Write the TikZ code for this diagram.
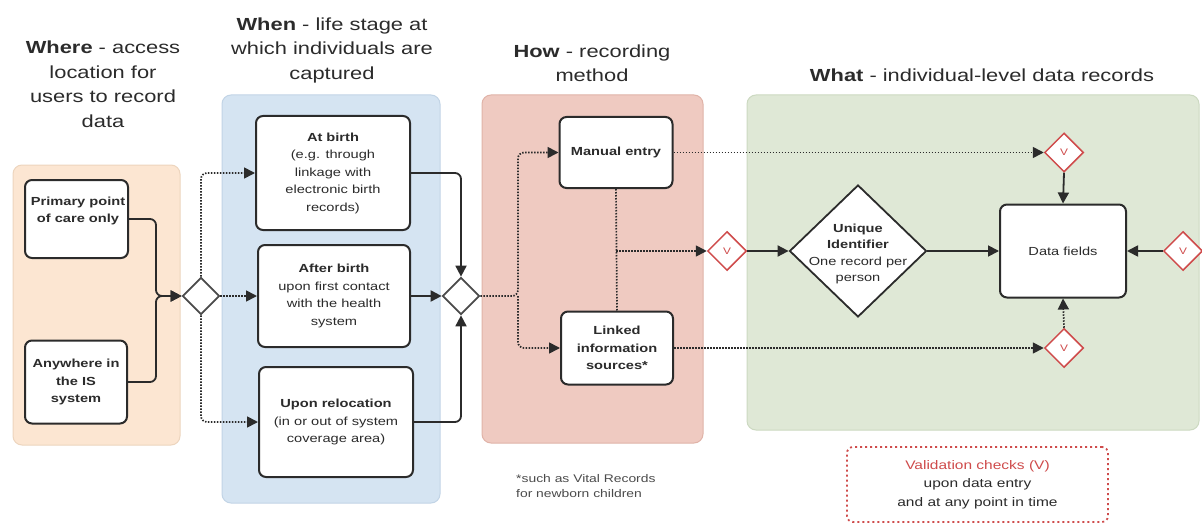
\documentclass[tikz,border=0pt]{standalone}
\usepackage{fontspec}
\setmainfont[FakeStretch=1.25]{Liberation Sans}
\usetikzlibrary{arrows.meta,shapes.geometric}
\definecolor{pOrange}{HTML}{FCE6D2}
\definecolor{pOrangeD}{HTML}{EDD5BE}
\definecolor{pBlue}{HTML}{D5E4F2}
\definecolor{pBlueD}{HTML}{C2D4E6}
\definecolor{pRed}{HTML}{EFCAC1}
\definecolor{pRedD}{HTML}{E0B3A8}
\definecolor{pGreen}{HTML}{DFE8D6}
\definecolor{pGreenD}{HTML}{CCD9C1}
\definecolor{vred}{HTML}{CF4B4B}
\definecolor{ink}{HTML}{2B2B2B}
\begin{document}
\begin{tikzpicture}[x=1pt,y=-1pt,
  panel/.style={rounded corners=9pt, line width=1pt},
  box/.style={draw=ink, fill=white, rounded corners=7pt, line width=2pt, align=center,
    text=ink, font=\fontsize{11.7}{17.5}\selectfont, inner sep=2pt},
  boxtext/.style={align=center, text=ink, font=\fontsize{11.7}{17.5}\selectfont, inner sep=0pt},
  gate/.style={diamond, draw=ink!85, fill=white, line width=1.7pt, minimum width=37pt,
    minimum height=37pt, inner sep=0pt},
  vchk/.style={diamond, draw=vred, fill=white, line width=1.5pt, minimum width=39pt,
    minimum height=39pt, inner sep=0pt, text=vred, font=\fontsize{9.5}{9.5}\selectfont},
  title/.style={align=center, text=ink, font=\fontsize{17.5}{24.5}\selectfont},
  conn/.style={line width=1.8pt, draw=ink, rounded corners=6pt},
  dotline/.style={conn, line width=1.7pt, dash pattern=on 1.5pt off 1.5pt},
  arr/.style={-{Triangle[length=11pt,width=11pt]}}]
\useasboundingbox (0,0) rectangle (1202,524);
\fill[white] (0,0) rectangle (1202,524);

% panels
\draw[panel, fill=pOrange, draw=pOrangeD] (13,165) rectangle (180,445);
\draw[panel, fill=pBlue, draw=pBlueD] (222,95) rectangle (440,503);
\draw[panel, fill=pRed, draw=pRedD] (482,95) rectangle (703,443);
\draw[panel, fill=pGreen, draw=pGreenD] (747,95) rectangle (1199,430);

% titles
\node[title] (tWhere) at (103,84) {\textbf{Where} - access\\location for\\users to record\\data};
\node[title] (tWhen) at (332,50) {\textbf{When} - life stage at\\which individuals are\\captured};
\node[title] (tHow) at (592,63) {\textbf{How} - recording\\method};
\node[title] (tWhat) at (982,75) {\textbf{What} - individual-level data records};

% where boxes
\node[box, minimum width=103pt, minimum height=78pt] (prim) at (76.5,219) {};
\node[boxtext] (primt) at (78,211) {\textbf{Primary point}\\\textbf{of care only}};
\node[box, minimum width=102pt, minimum height=83pt] (anyw) at (76,382) {\textbf{Anywhere in}\\\textbf{the IS}\\\textbf{system}};

% gateway 1
\node[gate] (d1) at (201,296) {};

% when boxes
\node[box, minimum width=154pt, minimum height=114pt] (atb) at (333,173)
  {\textbf{At birth}\\(e.g. through\\linkage with\\electronic birth\\records)};
\node[box, minimum width=152pt, minimum height=102pt] (aft) at (334,296)
  {\textbf{After birth}\\upon first contact\\with the health\\system};
\node[box, minimum width=154pt, minimum height=110pt] (upr) at (336,422)
  {\textbf{Upon relocation}\\(in or out of system\\coverage area)};

% gateway 2
\node[gate] (d2) at (461,296) {};

% how boxes
\node[box, minimum width=113pt, minimum height=71pt] (man) at (616,152.5) {\textbf{Manual entry}};
\node[box, minimum width=112pt, minimum height=73pt] (lnk) at (617,348)
  {\textbf{Linked}\\\textbf{information}\\\textbf{sources*}};

% validation diamonds
\node[vchk] (vm) at (727,251) {V};
\node[vchk] (vt) at (1064,152.5) {V};
\node[vchk] (vr) at (1183,251) {V};
\node[vchk] (vb) at (1064,348) {V};

% unique identifier
\node[diamond, draw=ink, fill=white, line width=1.8pt, minimum width=137pt,
  minimum height=132pt, inner sep=0pt] (uid) at (858,251) {};
\node[boxtext, font=\fontsize{11.7}{16.5}\selectfont] (uidt) at (858,254)
  {\textbf{Unique}\\\textbf{Identifier}\\One record per\\person};

% data fields
\node[box, minimum width=126pt, minimum height=93pt] (dat) at (1063,251) {Data fields};

% footnote and legend
\node[anchor=west, align=left, text=ink!85, inner sep=0pt, font=\fontsize{11.1}{15}\selectfont]
  (fn) at (516,486) {*such as Vital Records\\for newborn children};
\node[draw=vred, line width=1.8pt, dash pattern=on 2pt off 3pt, rounded corners=6pt,
  minimum width=261pt, minimum height=75pt, align=center, text=ink,
  font=\fontsize{12.4}{18.5}\selectfont] (val) at (977.5,484.5)
  {\textcolor{vred}{Validation checks (V)}\\upon data entry\\and at any point in time};

% connectors: where -> gateway 1
\draw[conn, arr] (prim.east) -- ++(27,0) |- (d1.west);
\draw[conn, arr] (anyw.east) -- ++(28,0) |- (d1.west);

% gateway 1 -> when boxes
\draw[dotline, arr] (d1.north) |- (atb.west);
\draw[dotline, arr] (d1.east) -- (aft.west);
\draw[dotline, arr] (d1.south) |- (upr.west);

% when boxes -> gateway 2
\draw[conn, arr] (atb.east) -| (d2.north);
\draw[conn, arr] (aft.east) -- (d2.west);
\draw[conn, arr] (upr.east) -| (d2.south);

% gateway 2 -> how boxes
\coordinate (j2) at (518,296);
\draw[dotline, arr] (d2.east) -- (j2) |- (man.west);
\draw[dotline, arr] (j2) |- (lnk.west);

% how -> validation
\draw[dotline] (man.south) -- (lnk.north);
\coordinate (j3) at (man.south |- vm.west);
\draw[dotline, arr] (j3) -- (vm.west);
\draw[conn, arr] (vm.east) -- (uid.west);
\draw[conn, arr] (uid.east) -- (dat.west);
\draw[dotline, arr] (man.east) -- (vt.west);
\draw[dotline, arr] (lnk.east) -- (vb.west);
\draw[conn, arr] (vt.south) -- (dat.north);
\draw[conn, arr] (vr.west) -- (dat.east);
\draw[dotline, arr] (vb.north) -- (dat.south);
\end{tikzpicture}
\end{document}
